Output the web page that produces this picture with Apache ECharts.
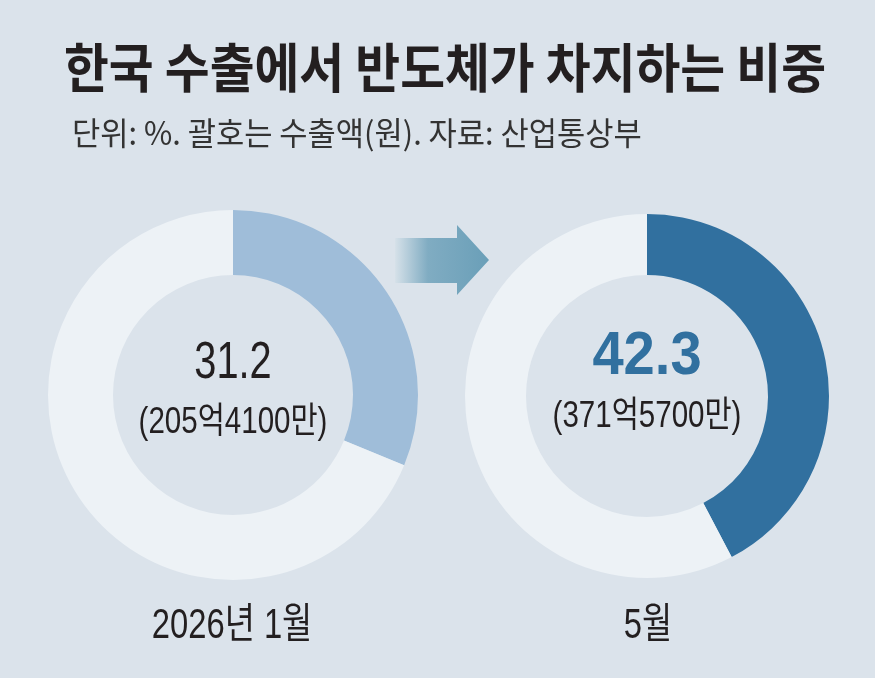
<!DOCTYPE html>
<html>
<head>
<meta charset="utf-8">
<script src="https://cdn.jsdelivr.net/npm/echarts@6/dist/echarts.min.js"></script>
<style>
  html, body { margin: 0; padding: 0; background: #dbe3eb; }
  #main { width: 875px; height: 678px; }
</style>
</head>
<body>
<div id="main"></div>
<script>
// data
var periods = ['2026년 1월', '5월'];
var shares = [31.2, 42.3];            // 반도체 비중 (%)
var amounts = ['205억4100만', '371억5700만'];

var centers = [[233, 395], [647, 396]];
var radii = [[120, 185], [121, 182]];
var shareColors = ['#9fbdd9', '#31709f'];
var restColor = '#edf2f6';

var chartDom = document.getElementById('main');
var myChart = echarts.init(chartDom);
var option;

var series = shares.map(function (v, i) {
  return {
    type: 'pie',
    center: centers[i],
    radius: radii[i],
    startAngle: 90,
    clockwise: true,
    silent: true,
    label: { show: false },
    labelLine: { show: false },
    animation: false,
    data: [
      { value: v, itemStyle: { color: shareColors[i] } },
      { value: 100 - v, itemStyle: { color: restColor } }
    ]
  };
});

var numFont = '"Liberation Sans", "Noto Sans CJK KR", sans-serif';
var texts = [];
shares.forEach(function (v, i) {
  var cx = centers[i][0];
  texts.push({
    type: 'text', x: cx, y: i === 0 ? 364 : 357, scaleX: i === 0 ? 0.78 : 0.92,
    style: {
      text: v.toFixed(1), fill: i === 0 ? '#231f20' : '#31709f',
      font: (i === 0 ? 'normal 51px ' : 'bold 61px ') + numFont,
      align: 'center', verticalAlign: 'middle'
    }
  });
  texts.push({
    type: 'text', x: cx, y: i === 0 ? 423 : 417, scaleX: 0.82,
    style: {
      text: '(' + amounts[i] + ')', fill: '#231f20',
      font: 'normal 36px ' + numFont,
      align: 'center', verticalAlign: 'middle'
    }
  });
  texts.push({
    type: 'text', x: i === 0 ? 232 : 648, y: 626, scaleX: 0.78,
    style: {
      text: periods[i], fill: '#231f20',
      font: 'normal 42px ' + numFont,
      align: 'center', verticalAlign: 'middle'
    }
  });
});

option = {
  backgroundColor: '#dbe3eb',
  graphic: [
    {
      type: 'text', x: 445, y: 68, scaleX: 0.92,
      style: {
        text: '한국 수출에서 반도체가 차지하는 비중', fill: '#231f20',
        font: 'bold 53px "Noto Sans CJK KR", sans-serif',
        align: 'center', verticalAlign: 'middle'
      }
    },
    {
      type: 'text', x: 72, y: 133, scaleX: 0.96,
      style: {
        text: '단위: %. 괄호는 수출액(원). 자료: 산업통상부', fill: '#333333',
        font: 'normal 32px "Noto Sans CJK KR", sans-serif',
        align: 'left', verticalAlign: 'middle'
      }
    },
    {
      type: 'polygon',
      shape: { points: [[395, 238], [457, 238], [457, 225], [489, 260], [457, 295], [457, 283], [395, 283]] },
      style: {
        fill: new echarts.graphic.LinearGradient(0, 0, 1, 0, [
          { offset: 0, color: '#d6e1e9' },
          { offset: 0.35, color: '#80acc2' },
          { offset: 1, color: '#6a9fb8' }
        ])
      }
    }
  ].concat(texts),
  series: series
};

option && myChart.setOption(option);
</script>
</body>
</html>
